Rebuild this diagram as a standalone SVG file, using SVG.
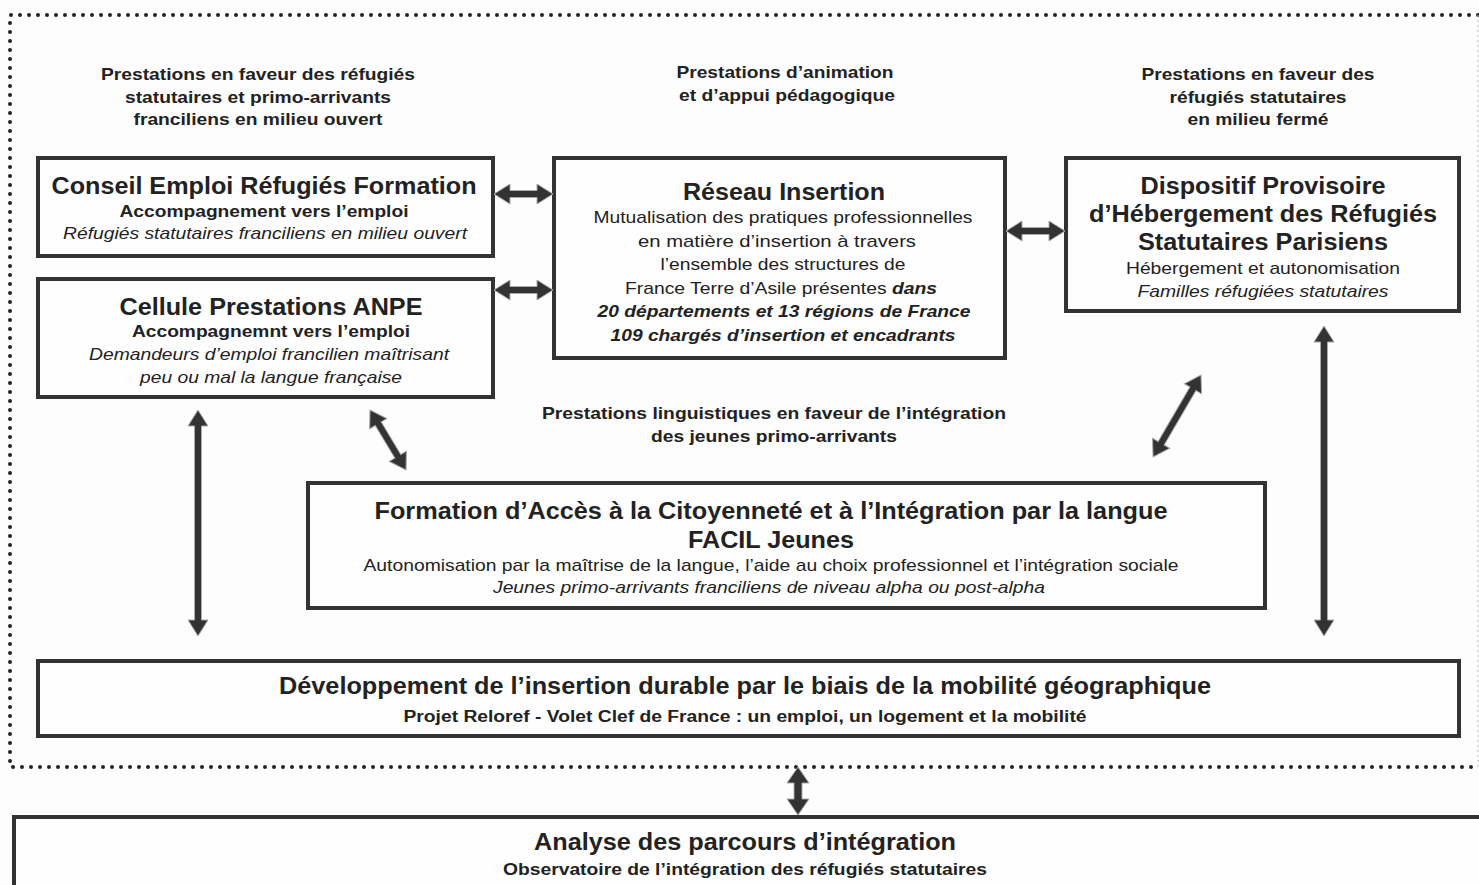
<svg xmlns="http://www.w3.org/2000/svg" width="1479" height="885" viewBox="0 0 1479 885">
<style>
.bg{fill:#fdfdfd}
.box{fill:#fefefe;stroke:#333;stroke-width:4}
.dots{fill:none;stroke:#222;stroke-width:4;stroke-dasharray:0 9;stroke-linecap:round}
.arr{fill:#333;stroke:#aaa;stroke-width:1}
text{font-family:"Liberation Sans",Arial,sans-serif;fill:#222;text-anchor:middle}
.h{font-size:17px;font-weight:bold}
.t{font-size:23px;font-weight:bold}
.b{font-size:17px;font-weight:bold}
.n{font-size:17px}
.i{font-size:17px;font-style:italic}
.bi{font-weight:bold;font-style:italic}
.s{font-size:16px;font-weight:bold}
</style>
<rect class="bg" x="0" y="0" width="1479" height="885"/>
<g id="frame">
<path class="dots" d="M1478,15 L10,15 L10,767 L1478,767"/>
<line x1="1478" y1="15" x2="1478" y2="767" stroke="#bbb" stroke-width="1" stroke-dasharray="2 3"/>
</g>
<g id="labels">
<text class="h" x="258" y="80" textLength="314" lengthAdjust="spacingAndGlyphs">Prestations en faveur des réfugiés</text>
<text class="h" x="258" y="103" textLength="266" lengthAdjust="spacingAndGlyphs">statutaires et primo-arrivants</text>
<text class="h" x="258" y="125" textLength="249" lengthAdjust="spacingAndGlyphs">franciliens en milieu ouvert</text>
<text class="h" x="785" y="78" textLength="217" lengthAdjust="spacingAndGlyphs">Prestations d’animation</text>
<text class="h" x="787" y="101" textLength="216" lengthAdjust="spacingAndGlyphs">et d’appui pédagogique</text>
<text class="h" x="1258" y="80" textLength="233" lengthAdjust="spacingAndGlyphs">Prestations en faveur des</text>
<text class="h" x="1258" y="103" textLength="177" lengthAdjust="spacingAndGlyphs">réfugiés statutaires</text>
<text class="h" x="1258" y="125" textLength="141" lengthAdjust="spacingAndGlyphs">en milieu fermé</text>
<text class="h" x="774" y="419" textLength="464" lengthAdjust="spacingAndGlyphs">Prestations linguistiques en faveur de l’intégration</text>
<text class="h" x="774" y="442" textLength="246" lengthAdjust="spacingAndGlyphs">des jeunes primo-arrivants</text>
</g>
<g id="conseil">
<rect class="box" x="38" y="158" width="455" height="98"/>
<text class="t" x="264" y="194" textLength="425" lengthAdjust="spacingAndGlyphs">Conseil Emploi Réfugiés Formation</text>
<text class="b" x="264" y="217" textLength="289" lengthAdjust="spacingAndGlyphs">Accompagnement vers l’emploi</text>
<text class="i" x="265" y="239" textLength="404" lengthAdjust="spacingAndGlyphs">Réfugiés statutaires franciliens en milieu ouvert</text>
</g>
<g id="cellule">
<rect class="box" x="38" y="279" width="455" height="118"/>
<text class="t" x="271" y="315" textLength="303" lengthAdjust="spacingAndGlyphs">Cellule Prestations ANPE</text>
<text class="b" x="271" y="337" textLength="278" lengthAdjust="spacingAndGlyphs">Accompagnemnt vers l’emploi</text>
<text class="i" x="269" y="360" textLength="360" lengthAdjust="spacingAndGlyphs">Demandeurs d’emploi francilien maîtrisant</text>
<text class="i" x="271" y="383" textLength="262" lengthAdjust="spacingAndGlyphs">peu ou mal la langue française</text>
</g>
<g id="reseau">
<rect class="box" x="554" y="158" width="451" height="200"/>
<text class="t" x="784" y="200" textLength="202" lengthAdjust="spacingAndGlyphs">Réseau Insertion</text>
<text class="n" x="783" y="223" textLength="379" lengthAdjust="spacingAndGlyphs">Mutualisation des pratiques professionnelles</text>
<text class="n" x="777" y="247" textLength="278" lengthAdjust="spacingAndGlyphs">en matière d’insertion à travers</text>
<text class="n" x="783" y="270" textLength="245" lengthAdjust="spacingAndGlyphs">l’ensemble des structures de</text>
<text class="n" x="781" y="294" textLength="312" lengthAdjust="spacingAndGlyphs">France Terre d’Asile présentes <tspan class="bi">dans</tspan></text>
<text class="n bi" x="784" y="317" textLength="373" lengthAdjust="spacingAndGlyphs">20 départements et 13 régions de France</text>
<text class="n bi" x="783" y="341" textLength="345" lengthAdjust="spacingAndGlyphs">109 chargés d’insertion et encadrants</text>
</g>
<g id="dispositif">
<rect class="box" x="1066" y="158" width="393" height="153"/>
<text class="t" x="1263" y="194" textLength="245" lengthAdjust="spacingAndGlyphs">Dispositif Provisoire</text>
<text class="t" x="1263" y="222" textLength="348" lengthAdjust="spacingAndGlyphs">d’Hébergement des Réfugiés</text>
<text class="t" x="1263" y="250" textLength="250" lengthAdjust="spacingAndGlyphs">Statutaires Parisiens</text>
<text class="n" x="1263" y="274" textLength="274" lengthAdjust="spacingAndGlyphs">Hébergement et autonomisation</text>
<text class="i" x="1263" y="297" textLength="251" lengthAdjust="spacingAndGlyphs">Familles réfugiées statutaires</text>
</g>
<g id="facil">
<rect class="box" x="308" y="483" width="957" height="125"/>
<text class="t" x="771" y="519" textLength="793" lengthAdjust="spacingAndGlyphs">Formation d’Accès à la Citoyenneté et à l’Intégration par la langue</text>
<text class="t" x="771" y="548" textLength="166" lengthAdjust="spacingAndGlyphs">FACIL Jeunes</text>
<text class="n" x="771" y="571" textLength="815" lengthAdjust="spacingAndGlyphs">Autonomisation par la maîtrise de la langue, l’aide au choix professionnel et l’intégration sociale</text>
<text class="i" x="769" y="593" textLength="552" lengthAdjust="spacingAndGlyphs">Jeunes primo-arrivants franciliens de niveau alpha ou post-alpha</text>
</g>
<g id="developpement">
<rect class="box" x="38" y="661" width="1421" height="75"/>
<text class="t" x="745" y="694" textLength="932" lengthAdjust="spacingAndGlyphs">Développement de l’insertion durable par le biais de la mobilité géographique</text>
<text class="s" x="745" y="722" textLength="683" lengthAdjust="spacingAndGlyphs">Projet Reloref - Volet Clef de France : un emploi, un logement et la mobilité</text>
</g>
<g id="analyse">
<rect class="box" x="14" y="817" width="1475" height="80"/>
<text class="t" x="745" y="850" textLength="422" lengthAdjust="spacingAndGlyphs">Analyse des parcours d’intégration</text>
<text class="s" x="745" y="875" textLength="484" lengthAdjust="spacingAndGlyphs">Observatoire de l’intégration des réfugiés statutaires</text>
</g>
<g id="connectors">
<polygon class="arr" transform="translate(494,194)" points="0,0 16,-10 16,-3.5 43,-3.5 43,-10 59,0 43,10 43,3.5 16,3.5 16,10"/>
<polygon class="arr" transform="translate(494,290)" points="0,0 16,-10 16,-3.5 43,-3.5 43,-10 59,0 43,10 43,3.5 16,3.5 16,10"/>
<polygon class="arr" transform="translate(1006,231)" points="0,0 16,-10 16,-3.5 43,-3.5 43,-10 59,0 43,10 43,3.5 16,3.5 16,10"/>
<polygon class="arr" transform="translate(198,410) rotate(90)" points="0,0 16,-10 16,-3.5 210,-3.5 210,-10 226,0 210,10 210,3.5 16,3.5 16,10"/>
<polygon class="arr" transform="translate(370,410) rotate(59)" points="0,0 16,-10 16,-3.5 54,-3.5 54,-10 70,0 54,10 54,3.5 16,3.5 16,10"/>
<polygon class="arr" transform="translate(1201,375) rotate(120.3)" points="0,0 16,-10 16,-3.5 79,-3.5 79,-10 95,0 79,10 79,3.5 16,3.5 16,10"/>
<polygon class="arr" transform="translate(1324,326) rotate(90)" points="0,0 16,-10 16,-3.5 294,-3.5 294,-10 310,0 294,10 294,3.5 16,3.5 16,10"/>
<polygon class="arr" transform="translate(798,767) rotate(90)" points="0,0 16,-11 16,-4 32,-4 32,-11 48,0 32,11 32,4 16,4 16,11"/>
</g>
</svg>
